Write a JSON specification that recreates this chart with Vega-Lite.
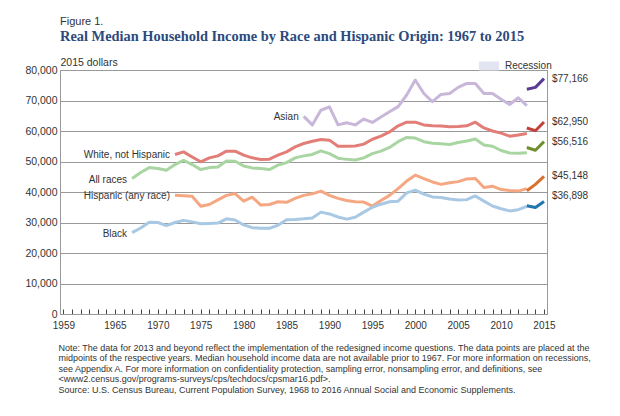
{
"$schema": "https://vega.github.io/schema/vega-lite/v6.json",
"width": 487, "height": 244,
"autosize": {"type": "none"},
"padding": {"left": 60, "top": 70, "right": 73, "bottom": 102},
"background": "white",
"title": {"text": "Figure 1.", "subtitle": "Real Median Household Income by Race and Hispanic Origin: 1967 to 2015", "anchor": "start", "frame": "group", "font": "Liberation Sans", "fontSize": 11, "fontWeight": "normal", "color": "#333333", "subtitleFont": "Liberation Serif", "subtitleFontSize": 14.4, "subtitleFontWeight": "bold", "subtitleColor": "#2c4a7c", "subtitlePadding": 3, "offset": 13},
"datasets": {
"bands": [
{"start": 1960.5, "end": 1961.3, "kind": "Recession"},
{"start": 1969.92, "end": 1970.82, "kind": "Recession"},
{"start": 1973.9, "end": 1975.4, "kind": "Recession"},
{"start": 1980.2, "end": 1980.6, "kind": "Recession"},
{"start": 1981.6, "end": 1982.85, "kind": "Recession"},
{"start": 1990.6, "end": 1991.4, "kind": "Recession"},
{"start": 2001.25, "end": 2001.8, "kind": "Recession"},
{"start": 2007.92, "end": 2009.5, "kind": "Recession"}
],
"income": [
{"series":"Asian","phase":"old","year":1987,"value":64800},
{"series":"Asian","phase":"old","year":1988,"value":62000},
{"series":"Asian","phase":"old","year":1989,"value":66800},
{"series":"Asian","phase":"old","year":1990,"value":67900},
{"series":"Asian","phase":"old","year":1991,"value":62000},
{"series":"Asian","phase":"old","year":1992,"value":62700},
{"series":"Asian","phase":"old","year":1993,"value":62000},
{"series":"Asian","phase":"old","year":1994,"value":63900},
{"series":"Asian","phase":"old","year":1995,"value":62800},
{"series":"Asian","phase":"old","year":1996,"value":64600},
{"series":"Asian","phase":"old","year":1997,"value":66300},
{"series":"Asian","phase":"old","year":1998,"value":68000},
{"series":"Asian","phase":"old","year":1999,"value":71800},
{"series":"Asian","phase":"old","year":2000,"value":76700},
{"series":"Asian","phase":"old","year":2001,"value":72300},
{"series":"Asian","phase":"old","year":2002,"value":69600},
{"series":"Asian","phase":"old","year":2003,"value":72000},
{"series":"Asian","phase":"old","year":2004,"value":72300},
{"series":"Asian","phase":"old","year":2005,"value":74300},
{"series":"Asian","phase":"old","year":2006,"value":75600},
{"series":"Asian","phase":"old","year":2007,"value":75600},
{"series":"Asian","phase":"old","year":2008,"value":72300},
{"series":"Asian","phase":"old","year":2009,"value":72300},
{"series":"Asian","phase":"old","year":2010,"value":70400},
{"series":"Asian","phase":"old","year":2011,"value":68700},
{"series":"Asian","phase":"old","year":2012,"value":70900},
{"series":"Asian","phase":"old","year":2013,"value":68300},
{"series":"Asian","phase":"new","year":2013,"value":73700},
{"series":"Asian","phase":"new","year":2014,"value":74300},
{"series":"Asian","phase":"new","year":2015,"value":77166},
{"series":"White, not Hispanic","phase":"old","year":1972,"value":52300},
{"series":"White, not Hispanic","phase":"old","year":1973,"value":53150},
{"series":"White, not Hispanic","phase":"old","year":1974,"value":51500},
{"series":"White, not Hispanic","phase":"old","year":1975,"value":49900},
{"series":"White, not Hispanic","phase":"old","year":1976,"value":51200},
{"series":"White, not Hispanic","phase":"old","year":1977,"value":51850},
{"series":"White, not Hispanic","phase":"old","year":1978,"value":53400},
{"series":"White, not Hispanic","phase":"old","year":1979,"value":53400},
{"series":"White, not Hispanic","phase":"old","year":1980,"value":52100},
{"series":"White, not Hispanic","phase":"old","year":1981,"value":51200},
{"series":"White, not Hispanic","phase":"old","year":1982,"value":50650},
{"series":"White, not Hispanic","phase":"old","year":1983,"value":50750},
{"series":"White, not Hispanic","phase":"old","year":1984,"value":52100},
{"series":"White, not Hispanic","phase":"old","year":1985,"value":53150},
{"series":"White, not Hispanic","phase":"old","year":1986,"value":54800},
{"series":"White, not Hispanic","phase":"old","year":1987,"value":55900},
{"series":"White, not Hispanic","phase":"old","year":1988,"value":56650},
{"series":"White, not Hispanic","phase":"old","year":1989,"value":57200},
{"series":"White, not Hispanic","phase":"old","year":1990,"value":57000},
{"series":"White, not Hispanic","phase":"old","year":1991,"value":55000},
{"series":"White, not Hispanic","phase":"old","year":1992,"value":55000},
{"series":"White, not Hispanic","phase":"old","year":1993,"value":55100},
{"series":"White, not Hispanic","phase":"old","year":1994,"value":55700},
{"series":"White, not Hispanic","phase":"old","year":1995,"value":57300},
{"series":"White, not Hispanic","phase":"old","year":1996,"value":58300},
{"series":"White, not Hispanic","phase":"old","year":1997,"value":59700},
{"series":"White, not Hispanic","phase":"old","year":1998,"value":61700},
{"series":"White, not Hispanic","phase":"old","year":1999,"value":62900},
{"series":"White, not Hispanic","phase":"old","year":2000,"value":62900},
{"series":"White, not Hispanic","phase":"old","year":2001,"value":62000},
{"series":"White, not Hispanic","phase":"old","year":2002,"value":61700},
{"series":"White, not Hispanic","phase":"old","year":2003,"value":61600},
{"series":"White, not Hispanic","phase":"old","year":2004,"value":61400},
{"series":"White, not Hispanic","phase":"old","year":2005,"value":61500},
{"series":"White, not Hispanic","phase":"old","year":2006,"value":61700},
{"series":"White, not Hispanic","phase":"old","year":2007,"value":62900},
{"series":"White, not Hispanic","phase":"old","year":2008,"value":61000},
{"series":"White, not Hispanic","phase":"old","year":2009,"value":60000},
{"series":"White, not Hispanic","phase":"old","year":2010,"value":59300},
{"series":"White, not Hispanic","phase":"old","year":2011,"value":58300},
{"series":"White, not Hispanic","phase":"old","year":2012,"value":58700},
{"series":"White, not Hispanic","phase":"old","year":2013,"value":59200},
{"series":"White, not Hispanic","phase":"new","year":2013,"value":61000},
{"series":"White, not Hispanic","phase":"new","year":2014,"value":60100},
{"series":"White, not Hispanic","phase":"new","year":2015,"value":62950},
{"series":"All races","phase":"old","year":1967,"value":44400},
{"series":"All races","phase":"old","year":1968,"value":46400},
{"series":"All races","phase":"old","year":1969,"value":48000},
{"series":"All races","phase":"old","year":1970,"value":47700},
{"series":"All races","phase":"old","year":1971,"value":47150},
{"series":"All races","phase":"old","year":1972,"value":49000},
{"series":"All races","phase":"old","year":1973,"value":50400},
{"series":"All races","phase":"old","year":1974,"value":49000},
{"series":"All races","phase":"old","year":1975,"value":47350},
{"series":"All races","phase":"old","year":1976,"value":48000},
{"series":"All races","phase":"old","year":1977,"value":48200},
{"series":"All races","phase":"old","year":1978,"value":50200},
{"series":"All races","phase":"old","year":1979,"value":50100},
{"series":"All races","phase":"old","year":1980,"value":48550},
{"series":"All races","phase":"old","year":1981,"value":47900},
{"series":"All races","phase":"old","year":1982,"value":47700},
{"series":"All races","phase":"old","year":1983,"value":47350},
{"series":"All races","phase":"old","year":1984,"value":48800},
{"series":"All races","phase":"old","year":1985,"value":49650},
{"series":"All races","phase":"old","year":1986,"value":51200},
{"series":"All races","phase":"old","year":1987,"value":51850},
{"series":"All races","phase":"old","year":1988,"value":52300},
{"series":"All races","phase":"old","year":1989,"value":53500},
{"series":"All races","phase":"old","year":1990,"value":52600},
{"series":"All races","phase":"old","year":1991,"value":51100},
{"series":"All races","phase":"old","year":1992,"value":50700},
{"series":"All races","phase":"old","year":1993,"value":50500},
{"series":"All races","phase":"old","year":1994,"value":51200},
{"series":"All races","phase":"old","year":1995,"value":52600},
{"series":"All races","phase":"old","year":1996,"value":53400},
{"series":"All races","phase":"old","year":1997,"value":54600},
{"series":"All races","phase":"old","year":1998,"value":56500},
{"series":"All races","phase":"old","year":1999,"value":57900},
{"series":"All races","phase":"old","year":2000,"value":57700},
{"series":"All races","phase":"old","year":2001,"value":56500},
{"series":"All races","phase":"old","year":2002,"value":56000},
{"series":"All races","phase":"old","year":2003,"value":55800},
{"series":"All races","phase":"old","year":2004,"value":55600},
{"series":"All races","phase":"old","year":2005,"value":56200},
{"series":"All races","phase":"old","year":2006,"value":56700},
{"series":"All races","phase":"old","year":2007,"value":57400},
{"series":"All races","phase":"old","year":2008,"value":55400},
{"series":"All races","phase":"old","year":2009,"value":55000},
{"series":"All races","phase":"old","year":2010,"value":53600},
{"series":"All races","phase":"old","year":2011,"value":52800},
{"series":"All races","phase":"old","year":2012,"value":52700},
{"series":"All races","phase":"old","year":2013,"value":52900},
{"series":"All races","phase":"new","year":2013,"value":54600},
{"series":"All races","phase":"new","year":2014,"value":53700},
{"series":"All races","phase":"new","year":2015,"value":56516},
{"series":"Hispanic (any race)","phase":"old","year":1972,"value":38900},
{"series":"Hispanic (any race)","phase":"old","year":1973,"value":38800},
{"series":"Hispanic (any race)","phase":"old","year":1974,"value":38600},
{"series":"Hispanic (any race)","phase":"old","year":1975,"value":35300},
{"series":"Hispanic (any race)","phase":"old","year":1976,"value":35900},
{"series":"Hispanic (any race)","phase":"old","year":1977,"value":37400},
{"series":"Hispanic (any race)","phase":"old","year":1978,"value":38900},
{"series":"Hispanic (any race)","phase":"old","year":1979,"value":39500},
{"series":"Hispanic (any race)","phase":"old","year":1980,"value":37000},
{"series":"Hispanic (any race)","phase":"old","year":1981,"value":38300},
{"series":"Hispanic (any race)","phase":"old","year":1982,"value":35700},
{"series":"Hispanic (any race)","phase":"old","year":1983,"value":35900},
{"series":"Hispanic (any race)","phase":"old","year":1984,"value":36800},
{"series":"Hispanic (any race)","phase":"old","year":1985,"value":36600},
{"series":"Hispanic (any race)","phase":"old","year":1986,"value":37900},
{"series":"Hispanic (any race)","phase":"old","year":1987,"value":38900},
{"series":"Hispanic (any race)","phase":"old","year":1988,"value":39400},
{"series":"Hispanic (any race)","phase":"old","year":1989,"value":40300},
{"series":"Hispanic (any race)","phase":"old","year":1990,"value":38900},
{"series":"Hispanic (any race)","phase":"old","year":1991,"value":37900},
{"series":"Hispanic (any race)","phase":"old","year":1992,"value":37200},
{"series":"Hispanic (any race)","phase":"old","year":1993,"value":36800},
{"series":"Hispanic (any race)","phase":"old","year":1994,"value":36700},
{"series":"Hispanic (any race)","phase":"old","year":1995,"value":35400},
{"series":"Hispanic (any race)","phase":"old","year":1996,"value":37200},
{"series":"Hispanic (any race)","phase":"old","year":1997,"value":38900},
{"series":"Hispanic (any race)","phase":"old","year":1998,"value":41100},
{"series":"Hispanic (any race)","phase":"old","year":1999,"value":43600},
{"series":"Hispanic (any race)","phase":"old","year":2000,"value":45500},
{"series":"Hispanic (any race)","phase":"old","year":2001,"value":44400},
{"series":"Hispanic (any race)","phase":"old","year":2002,"value":43300},
{"series":"Hispanic (any race)","phase":"old","year":2003,"value":42500},
{"series":"Hispanic (any race)","phase":"old","year":2004,"value":43000},
{"series":"Hispanic (any race)","phase":"old","year":2005,"value":43400},
{"series":"Hispanic (any race)","phase":"old","year":2006,"value":44300},
{"series":"Hispanic (any race)","phase":"old","year":2007,"value":44400},
{"series":"Hispanic (any race)","phase":"old","year":2008,"value":41500},
{"series":"Hispanic (any race)","phase":"old","year":2009,"value":41900},
{"series":"Hispanic (any race)","phase":"old","year":2010,"value":40800},
{"series":"Hispanic (any race)","phase":"old","year":2011,"value":40500},
{"series":"Hispanic (any race)","phase":"old","year":2012,"value":40300},
{"series":"Hispanic (any race)","phase":"old","year":2013,"value":41100},
{"series":"Hispanic (any race)","phase":"new","year":2013,"value":40400},
{"series":"Hispanic (any race)","phase":"new","year":2014,"value":42500},
{"series":"Hispanic (any race)","phase":"new","year":2015,"value":45148},
{"series":"Black","phase":"old","year":1967,"value":26700},
{"series":"Black","phase":"old","year":1968,"value":28200},
{"series":"Black","phase":"old","year":1969,"value":30100},
{"series":"Black","phase":"old","year":1970,"value":30000},
{"series":"Black","phase":"old","year":1971,"value":29000},
{"series":"Black","phase":"old","year":1972,"value":30000},
{"series":"Black","phase":"old","year":1973,"value":30700},
{"series":"Black","phase":"old","year":1974,"value":30200},
{"series":"Black","phase":"old","year":1975,"value":29600},
{"series":"Black","phase":"old","year":1976,"value":29700},
{"series":"Black","phase":"old","year":1977,"value":29800},
{"series":"Black","phase":"old","year":1978,"value":31200},
{"series":"Black","phase":"old","year":1979,"value":30800},
{"series":"Black","phase":"old","year":1980,"value":29200},
{"series":"Black","phase":"old","year":1981,"value":28300},
{"series":"Black","phase":"old","year":1982,"value":28100},
{"series":"Black","phase":"old","year":1983,"value":28100},
{"series":"Black","phase":"old","year":1984,"value":29100},
{"series":"Black","phase":"old","year":1985,"value":30900},
{"series":"Black","phase":"old","year":1986,"value":31000},
{"series":"Black","phase":"old","year":1987,"value":31200},
{"series":"Black","phase":"old","year":1988,"value":31500},
{"series":"Black","phase":"old","year":1989,"value":33400},
{"series":"Black","phase":"old","year":1990,"value":32800},
{"series":"Black","phase":"old","year":1991,"value":31800},
{"series":"Black","phase":"old","year":1992,"value":31100},
{"series":"Black","phase":"old","year":1993,"value":31700},
{"series":"Black","phase":"old","year":1994,"value":33400},
{"series":"Black","phase":"old","year":1995,"value":35000},
{"series":"Black","phase":"old","year":1996,"value":36000},
{"series":"Black","phase":"old","year":1997,"value":36800},
{"series":"Black","phase":"old","year":1998,"value":37000},
{"series":"Black","phase":"old","year":1999,"value":39700},
{"series":"Black","phase":"old","year":2000,"value":40600},
{"series":"Black","phase":"old","year":2001,"value":39300},
{"series":"Black","phase":"old","year":2002,"value":38400},
{"series":"Black","phase":"old","year":2003,"value":38200},
{"series":"Black","phase":"old","year":2004,"value":37700},
{"series":"Black","phase":"old","year":2005,"value":37400},
{"series":"Black","phase":"old","year":2006,"value":37500},
{"series":"Black","phase":"old","year":2007,"value":38700},
{"series":"Black","phase":"old","year":2008,"value":37000},
{"series":"Black","phase":"old","year":2009,"value":35400},
{"series":"Black","phase":"old","year":2010,"value":34500},
{"series":"Black","phase":"old","year":2011,"value":33800},
{"series":"Black","phase":"old","year":2012,"value":34200},
{"series":"Black","phase":"old","year":2013,"value":35300},
{"series":"Black","phase":"new","year":2013,"value":35500},
{"series":"Black","phase":"new","year":2014,"value":34900},
{"series":"Black","phase":"new","year":2015,"value":36898}
]
},
"data": {"name": "income"},
"encoding": {
"x": {"field": "year", "type": "quantitative", "scale": {"domain": [1958.6, 2015.35], "nice": false, "zero": false},
 "axis": {"values": [1959,1960,1961,1962,1963,1964,1965,1966,1967,1968,1969,1970,1971,1972,1973,1974,1975,1976,1977,1978,1979,1980,1981,1982,1983,1984,1985,1986,1987,1988,1989,1990,1991,1992,1993,1994,1995,1996,1997,1998,1999,2000,2001,2002,2003,2004,2005,2006,2007,2008,2009,2010,2011,2012,2013,2014,2015],
  "labelExpr": "(datum.value == 1959 || (datum.value % 5 == 0 && datum.value != 1960)) ? '' + datum.value : ''",
  "labelOverlap": false, "labelBound": false, "labelFlush": false,
  "grid": false, "tickSize": -5, "tickWidth": 1, "tickColor": "#444444", "domainColor": "#999999", "labelPadding": 11, "labelFontSize": 10, "labelColor": "#333333", "labelFont": "Liberation Sans",
  "title": ["Note: The data for 2013 and beyond reflect the implementation of the redesigned income questions. The data points are placed at the", "midpoints of the respective years. Median household income data are not available prior to 1967. For more information on recessions,", "see Appendix A. For more information on confidentiality protection, sampling error, nonsampling error, and definitions, see", "<www2.census.gov/programs-surveys/cps/techdocs/cpsmar16.pdf>.", "Source: U.S. Census Bureau, Current Population Survey, 1968 to 2016 Annual Social and Economic Supplements."],
  "titleAnchor": "start", "titleAlign": "left", "titleX": -2, "titleY": 29, "titleBaseline": "top", "titleFontSize": 9, "titleFontWeight": "normal", "titleLineHeight": 10.5, "titleColor": "#333333", "titleFont": "Liberation Sans"}},
"y": {"field": "value", "type": "quantitative", "scale": {"domain": [0, 80000], "nice": false},
 "axis": {"values": [0,10000,20000,30000,40000,50000,60000,70000,80000], "format": ",d", "grid": true, "gridColor": "#999999", "ticks": false, "domainColor": "#999999", "labelPadding": 3, "labelFontSize": 10.5, "labelColor": "#333333", "labelFont": "Liberation Sans",
  "title": "2015 dollars", "titleAngle": 0, "titleX": 0, "titleY": -3, "titleAlign": "left", "titleBaseline": "bottom", "titleFontSize": 10.5, "titleFontWeight": "normal", "titleColor": "#333333", "titleFont": "Liberation Sans"}}
},
"layer": [
{"data": {"name": "bands"}, "mark": {"type": "rect"},
 "encoding": {"x": {"field": "start", "type": "quantitative"}, "x2": {"field": "end"}, "y": {"datum": 80000}, "y2": {"datum": 0},
  "color": {"field": "kind", "type": "nominal", "scale": {"domain": ["Recession"], "range": ["#e3e4f1"]},
   "legend": {"title": null, "orient": "none", "legendX": 419, "legendY": -14, "symbolType": "M-1,-0.45L1,-0.45L1,0.45L-1,0.45Z", "symbolSize": 400, "symbolStrokeWidth": 0, "labelFontSize": 10, "labelColor": "#333333", "labelOffset": 6, "labelFont": "Liberation Sans"}}}},
{"transform": [{"calculate": "datum.series + '|' + datum.phase", "as": "key"}],
 "mark": {"type": "line", "strokeWidth": 3, "strokeJoin": "round"},
 "encoding": {"stroke": {"field": "key", "type": "nominal", "legend": null,
  "scale": {"domain": ["Asian|old","Asian|new","White, not Hispanic|old","White, not Hispanic|new","All races|old","All races|new","Hispanic (any race)|old","Hispanic (any race)|new","Black|old","Black|new"],
   "range": ["#c9b7da","#5a3b93","#e27d77","#c4413b","#a8d5a1","#6f8f2f","#f5a782","#d8702e","#a8c8e4","#2176ae"]}}}},
{"transform": [{"filter": "datum.phase == 'old'"}, {"joinaggregate": [{"op": "min", "field": "year", "as": "y0"}], "groupby": ["series"]}, {"filter": "datum.year == datum.y0"}],
 "mark": {"type": "text", "align": "right", "baseline": "middle", "dx": -5, "dy": 1, "fontSize": 10, "color": "#333333", "font": "Liberation Sans"},
 "encoding": {"text": {"field": "series"}}},
{"transform": [{"filter": "datum.year == 2015 && datum.series != 'Black'"}],
 "mark": {"type": "text", "align": "left", "baseline": "middle", "dx": 8, "fontSize": 10, "color": "#333333", "font": "Liberation Sans"},
 "encoding": {"text": {"field": "value", "format": "$,.0f"}}},
{"transform": [{"filter": "datum.year == 2015 && datum.series == 'Black'"}],
 "mark": {"type": "text", "align": "left", "baseline": "middle", "dx": 8, "dy": -5, "fontSize": 10, "color": "#333333", "font": "Liberation Sans"},
 "encoding": {"text": {"field": "value", "format": "$,.0f"}}}
],
"config": {"view": {"stroke": "#999999"}}
}
